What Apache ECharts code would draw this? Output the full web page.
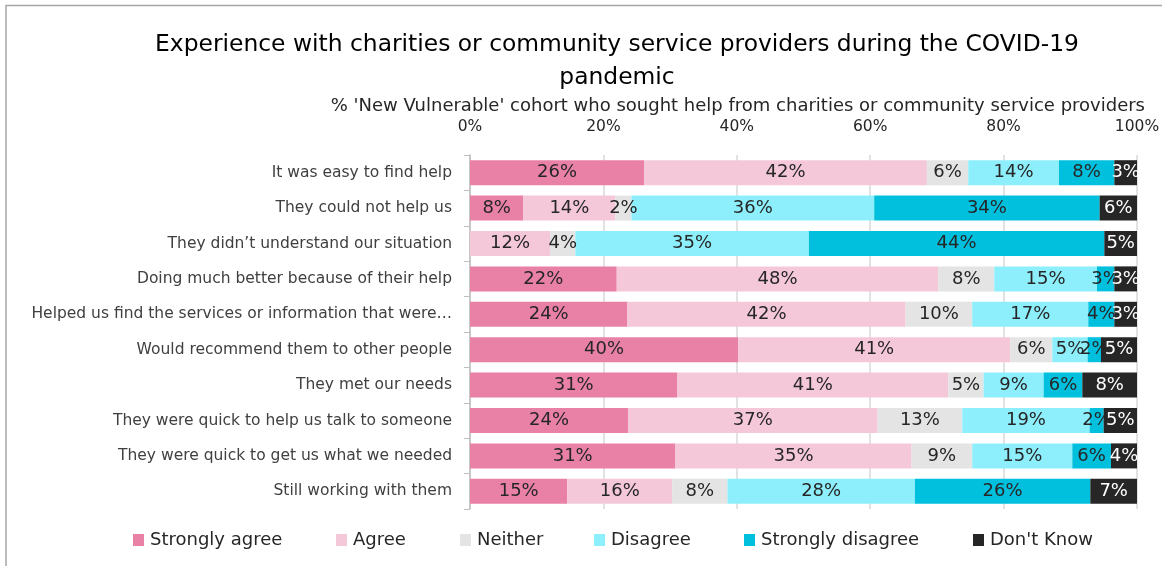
<!DOCTYPE html>
<html>
<head>
<meta charset="utf-8">
<script src="https://cdn.jsdelivr.net/npm/echarts@6/dist/echarts.min.js"></script>
<style>
  html, body { margin: 0; padding: 0; background: #fff; }
  #chart { width: 1165px; height: 566px; }
</style>
</head>
<body>
<div id="chart"></div>
<script>
// Survey statements (top to bottom)
const categories = [
  'It was easy to find help',
  'They could not help us',
  'They didn\u2019t understand our situation',
  'Doing much better because of their help',
  'Helped us find the services or information that were\u2026',
  'Would recommend them to other people',
  'They met our needs',
  'They were quick to help us talk to someone',
  'They were quick to get us what we needed',
  'Still working with them'
];

// Share of respondents (%) for each response
const stronglyAgree    = [26.1,  8.0,  0.0, 22.0, 23.6, 40.2, 31.1, 23.7, 30.8, 14.6];
const agree            = [42.4, 13.8, 12.0, 48.2, 41.7, 40.8, 40.6, 37.4, 35.4, 15.7];
const neither          = [ 6.2,  2.4,  3.8,  8.4, 10.0,  6.3,  5.3, 12.7,  9.1,  8.3];
const disagree         = [13.6, 36.4, 35.0, 15.4, 17.4,  5.3,  9.0, 19.1, 15.0, 28.1];
const stronglyDisagree = [ 8.3, 33.8, 44.3,  2.6,  3.9,  2.0,  5.8,  2.1,  5.8, 26.3];
const dontKnow         = [ 3.4,  5.6,  4.9,  3.4,  3.4,  5.4,  8.2,  5.0,  3.9,  7.0];

const xTicks = [0, 20, 40, 60, 80, 100];

const FONT = '"DejaVu Sans", "Open Sans", sans-serif';

const seriesDefs = [
  { name: 'Strongly agree',    data: stronglyAgree,    color: '#E980A6', text: '#262626' },
  { name: 'Agree',             data: agree,            color: '#F5C8D9', text: '#262626' },
  { name: 'Neither',           data: neither,          color: '#E4E4E4', text: '#262626' },
  { name: 'Disagree',          data: disagree,         color: '#8EEFFC', text: '#262626' },
  { name: 'Strongly disagree', data: stronglyDisagree, color: '#00C0DE', text: '#262626' },
  { name: 'Don\'t Know',       data: dontKnow,         color: '#262626', text: '#FFFFFF' }
];

// Legend entries placed individually along the bottom
const legendLeft = [133, 336, 460, 594, 744, 973];

const chart = echarts.init(document.getElementById('chart'), null, { renderer: 'canvas' });

const option = {
  backgroundColor: '#ffffff',
  animation: false,
  graphic: [
    {
      type: 'polyline',
      shape: { points: [[6, 566], [6, 5.5], [1162, 5.5]] },
      style: { stroke: '#A6A6A6', lineWidth: 1.5, fill: null }
    },
    {
      type: 'text', x: 617, y: 45,
      style: {
        text: 'Experience with charities or community service providers during the COVID-19',
        font: '23.4px ' + FONT, fill: '#000000', align: 'center', verticalAlign: 'middle'
      }
    },
    {
      type: 'text', x: 617, y: 78,
      style: {
        text: 'pandemic',
        font: '23.4px ' + FONT, fill: '#000000', align: 'center', verticalAlign: 'middle'
      }
    },
    {
      type: 'text', x: 1145, y: 106,
      style: {
        text: '% \'New Vulnerable\' cohort who sought help from charities or community service providers',
        font: '18px ' + FONT, fill: '#262626', align: 'right', verticalAlign: 'middle'
      }
    }
  ],
  legend: seriesDefs.map((s, i) => ({
    data: [s.name],
    left: legendLeft[i],
    top: 531,
    itemWidth: 11,
    itemHeight: 12,
    itemGap: 0,
    icon: 'rect',
    padding: 0,
    selectedMode: false,
    textStyle: { fontFamily: FONT, fontSize: 18, color: '#262626', padding: [0, 0, 0, 1] }
  })),
  grid: { left: 470, right: 28, top: 155, bottom: 57, containLabel: false },
  xAxis: {
    type: 'value',
    position: 'top',
    min: xTicks[0],
    max: xTicks[xTicks.length - 1],
    interval: xTicks[1] - xTicks[0],
    axisLine: { show: false },
    axisTick: { show: false },
    axisLabel: {
      formatter: '{value}%', fontFamily: FONT, fontSize: 15.5, color: '#262626', margin: 20
    },
    splitLine: { show: true, lineStyle: { color: '#D9D9D9', width: 1.5 } }
  },
  yAxis: {
    type: 'category',
    inverse: true,
    data: categories,
    axisLine: { show: true, lineStyle: { color: '#BFBFBF', width: 1.5 } },
    axisTick: { show: true, length: 6, lineStyle: { color: '#BFBFBF' } },
    axisLabel: { fontFamily: FONT, fontSize: 15.5, color: '#404040', margin: 18 }
  },
  series: seriesDefs.map(s => ({
    name: s.name,
    type: 'bar',
    stack: 'total',
    barWidth: 25,
    data: s.data,
    itemStyle: { color: s.color },
    label: {
      show: true,
      position: 'inside',
      fontFamily: FONT,
      fontSize: 18,
      color: s.text,
      formatter: p => (p.value > 0 ? Math.round(p.value) + '%' : '')
    }
  }))
};

chart.setOption(option);
</script>
</body>
</html>
